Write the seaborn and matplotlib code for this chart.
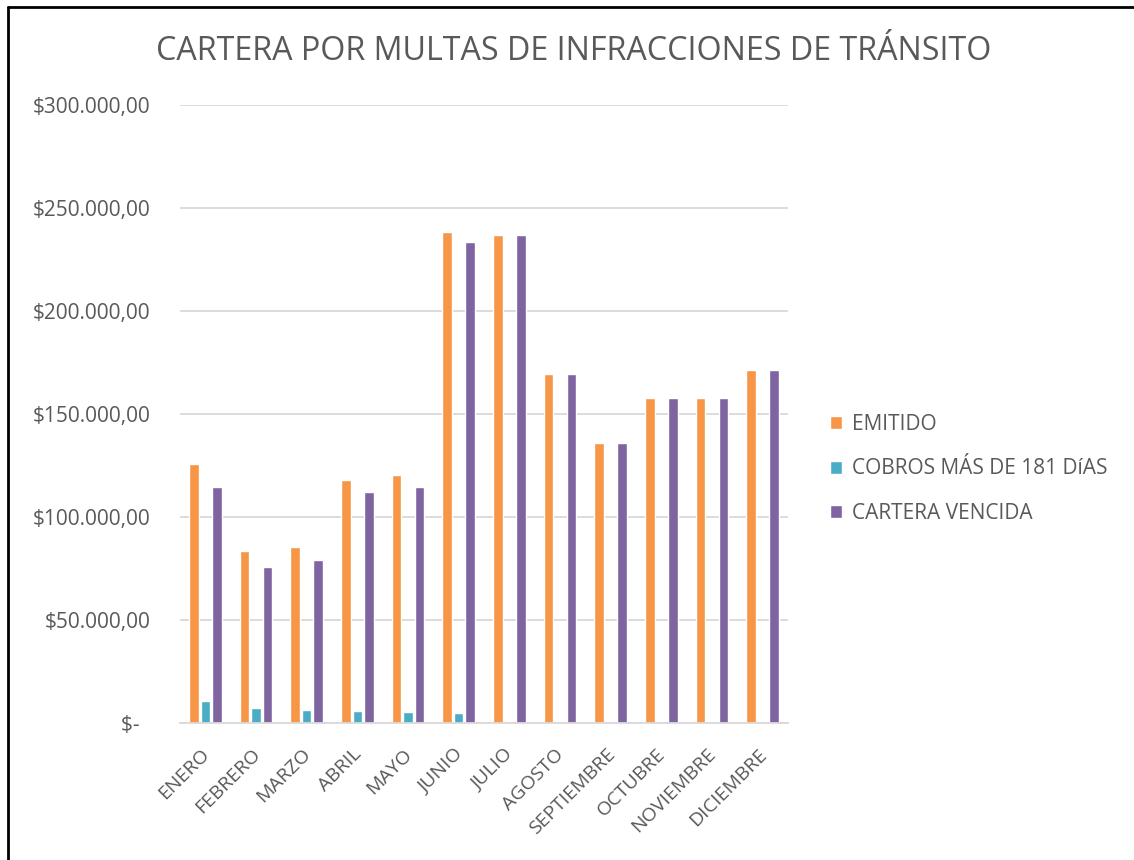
import matplotlib
matplotlib.use("Agg")
import matplotlib.pyplot as plt
import matplotlib.transforms as mtransforms
import seaborn as sns
import pandas as pd
from matplotlib.lines import Line2D
from matplotlib.ticker import FuncFormatter

months = ["ENERO", "FEBRERO", "MARZO", "ABRIL", "MAYO", "JUNIO", "JULIO",
          "AGOSTO", "SEPTIEMBRE", "OCTUBRE", "NOVIEMBRE", "DICIEMBRE"]
emitido = [125600, 83500, 85300, 117800, 120400, 238300, 236700,
           169400, 136100, 157800, 157800, 171500]
cobros = [10500, 7400, 6300, 5700, 5500, 4900, 0, 0, 0, 0, 0, 0]
cartera = [114700, 75900, 79000, 112000, 114600, 233300, 236700,
           169400, 136100, 157800, 157800, 171500]
series = ["EMITIDO", "COBROS MÁS DE 181 DíAS", "CARTERA VENCIDA"]
colors = ["#F79646", "#4BACC6", "#8064A2"]
title = "CARTERA POR MULTAS DE INFRACCIONES DE TRÁNSITO"

rows = []
for s, vals in zip(series, [emitido, cobros, cartera]):
    for m, v in zip(months, vals):
        rows.append({"mes": m, "serie": s, "valor": v})
df = pd.DataFrame(rows)

sns.set_theme(style="white")
plt.rcParams["font.family"] = ["Open Sans", "DejaVu Sans"]
txt = "#595959"

fig = plt.figure(figsize=(11.34, 8.6), dpi=100)
ax = fig.add_axes([180/1134, 1-723/860, (788-180)/1134, (723-105)/860])

sns.barplot(data=df, x="mes", y="valor", hue="serie", order=months,
            hue_order=series, palette=colors, width=0.68, gap=0.17,
            dodge=True, saturation=1, ax=ax, legend=True)

ax.set_ylim(0, 300000)
ax.set_yticks(range(0, 300001, 50000))

def fmt(v, pos):
    if v == 0:
        return "$-  "
    s = f"{int(v):,}".replace(",", ".")
    return f"${s},00"

ax.yaxis.set_major_formatter(FuncFormatter(fmt))
ax.grid(axis="y", color="#D9D9D9", linewidth=1.3)
ax.set_axisbelow(True)
for sp in ["left", "right", "top"]:
    ax.spines[sp].set_visible(False)
ax.spines["bottom"].set_color("#D9D9D9")
ax.spines["bottom"].set_linewidth(1.3)
ax.tick_params(axis="y", length=0, pad=21, labelsize=15, labelcolor=txt)
ax.tick_params(axis="x", length=0, pad=16, labelsize=14, labelcolor=txt)
ax.set_xlabel("")
ax.set_ylabel("")
offset = mtransforms.ScaledTranslation(-5/100, 0, fig.dpi_scale_trans)
for lab in ax.get_xticklabels():
    lab.set_rotation(45)
    lab.set_ha("right")
    lab.set_rotation_mode("anchor")
    lab.set_transform(lab.get_transform() + offset)

h, l = ax.get_legend_handles_labels()
ax.get_legend().remove()
fig.legend(h, l, loc="center left", bbox_to_anchor=(811/1134, 1-469/860),
           frameon=False, fontsize=15, labelcolor=txt, handlelength=0.6,
           handleheight=0.6, handletextpad=0.45, labelspacing=1.12)

fig.text(574/1134, 1-51/860, title, ha="center", va="center",
         fontsize=23.2, color=txt)

fig.add_artist(Line2D([7.5/1134, 7.5/1134], [0, 1-6.5/860], color="black",
                      linewidth=2, transform=fig.transFigure))
fig.add_artist(Line2D([7.5/1134, 1], [1-6.5/860, 1-6.5/860], color="black",
                      linewidth=2, transform=fig.transFigure))

fig.savefig("out.png", dpi=100, facecolor="white")
